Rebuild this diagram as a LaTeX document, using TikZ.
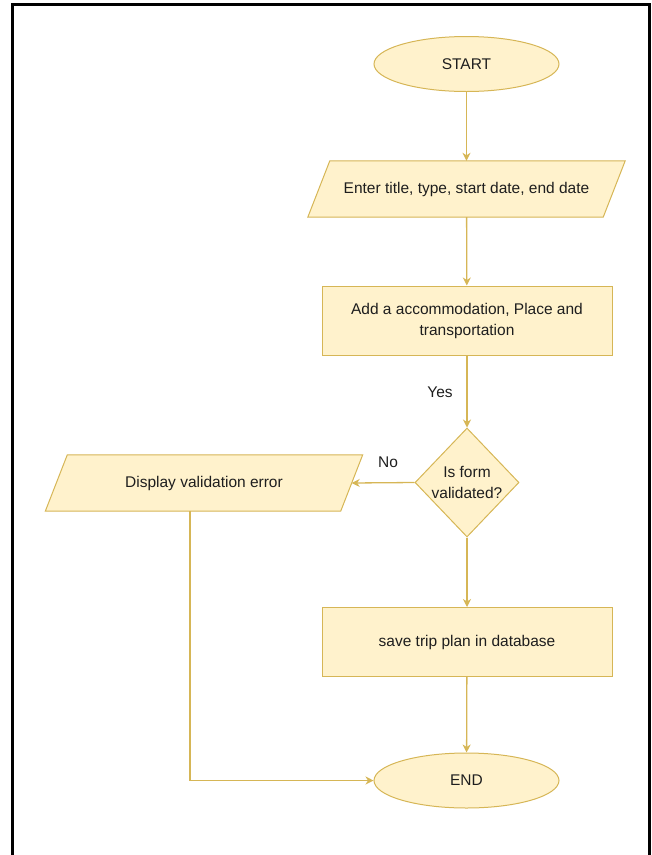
\documentclass[tikz,border=0pt]{standalone}
\usepackage{fontspec}
\setmainfont{Liberation Sans}
\usetikzlibrary{shapes.geometric,arrows.meta,backgrounds}
\definecolor{boxfill}{HTML}{FFF2CC}
\definecolor{boxline}{HTML}{D6B656}
\definecolor{ink}{HTML}{1E1E1E}
\begin{document}
\begin{tikzpicture}[x=1pt,y=-1pt,
  every node/.style={font=\fontsize{15.5}{21}\selectfont, text=ink},
  base/.style={draw=boxline, fill=boxfill, line width=1pt, inner sep=0pt},
  terminal/.style={base, ellipse, minimum width=185, minimum height=55},
  process/.style={base, rectangle, minimum width=290, minimum height=69, align=center},
  % text area of a data box; its slanted outline is drawn behind it
  io/.style={rectangle, inner sep=0pt, minimum width=295, minimum height=56},
  ioshape/.style={draw=boxline, fill=boxfill, line width=1pt, line join=miter},
  decision/.style={base, diamond, minimum width=104, minimum height=109},
  flow/.style={draw=boxline, line width=1.3pt, -{Stealth[length=8pt,width=8pt,inset=2.5pt]}}
]
\useasboundingbox (0,0) rectangle (652,855);

% page frame
\draw[line width=2.5pt] (12.5,855) -- (12.5,4.5) -- (649.5,4.5) -- (649.5,855);

% flowchart steps
\node[terminal] (start) at (466.5,64) {START};
\node[io] (enter) at (466.5,189) {Enter title, type, start date, end date};
\node[process] (add) at (467,320.5) {Add a accommodation, Place and\\transportation};
\node[decision] (dia) at (467,482.5) {};
\node[align=center] (diatext) at (dia) {Is form\\validated?};
\node[io] (disp) at (204,483) {Display validation error};
\node[process] (save) at (467,642) {save trip plan in database};
\node[terminal] (stop) at (466.5,780.5) {END};

% slanted outlines of the data boxes
\begin{scope}[on background layer]
  \foreach \n in {enter,disp}
    \path[ioshape] ([xshift=11pt]\n.north west) -- ([xshift=11pt]\n.north east)
      -- ([xshift=-11pt]\n.south east) -- ([xshift=-11pt]\n.south west) -- cycle;
\end{scope}

% branch labels
\node (yes) at (440,392) {Yes};
\node (no) at (388,462) {No};

% connectors
\draw[flow] (start) -- (enter);
\draw[flow] (enter) -- (add);
\draw[flow] (add) -- (dia);
\draw[flow] (dia.west) -- (disp.east);
\draw[flow] (dia) -- (save);
\draw[flow] (save) -- (stop);
\coordinate (corner) at (190,780.5);
\draw[flow] (disp.south -| corner) -- (corner) -- (stop.west);
\end{tikzpicture}
\end{document}
